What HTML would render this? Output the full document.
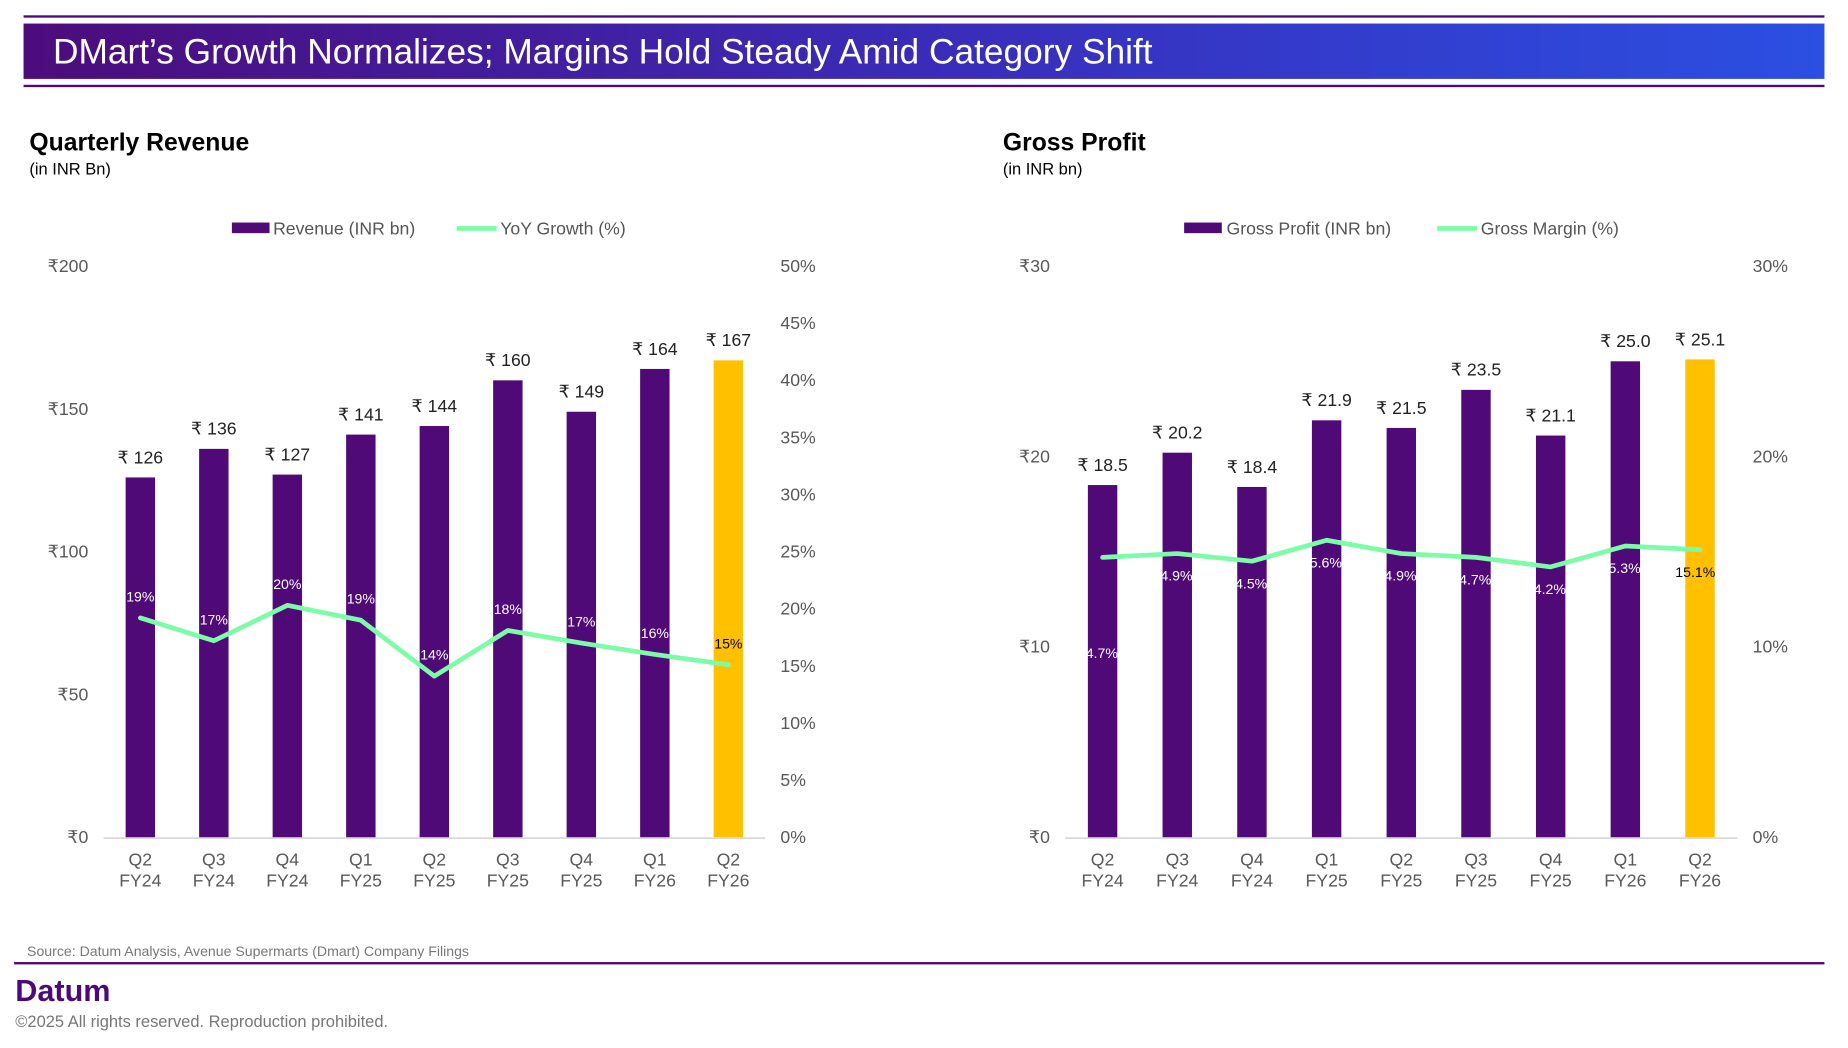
<!DOCTYPE html>
<html><head><meta charset="utf-8"><style>
html,body{margin:0;padding:0;background:#fff;}
svg{display:block;font-family:"Liberation Sans",sans-serif;}
</style></head><body>
<svg id="root" width="1848" height="1048" viewBox="0 0 1570 890" preserveAspectRatio="none">
<defs><linearGradient id="tg" x1="0" x2="1" y1="0" y2="0"><stop offset="0" stop-color="#4c0c7c"/><stop offset="0.5" stop-color="#3a2cb8"/><stop offset="1" stop-color="#2b4fe2"/></linearGradient></defs>
<rect x="20" y="13" width="1530" height="2" fill="#4b0a7a"/>
<rect x="20" y="20" width="1530" height="47" fill="url(#tg)"/>
<text x="45" y="54" font-size="30" fill="#fff">DMart’s Growth Normalizes; Margins Hold Steady Amid Category Shift</text>
<rect x="20" y="72" width="1530" height="2" fill="#4b0a7a"/>

<text x="25" y="128" font-size="21" font-weight="bold" fill="#000">Quarterly Revenue</text>
<text x="25" y="148" font-size="14" fill="#000">(in INR Bn)</text>
<text x="852" y="128" font-size="21" font-weight="bold" fill="#000">Gross Profit</text>
<text x="852" y="148" font-size="14" fill="#000">(in INR bn)</text>

<g>
<rect x="197" y="189" width="32" height="9" fill="#4f0a78"/>
<text x="232" y="199" font-size="15" fill="#555">Revenue (INR bn)</text>
<rect x="388" y="192" width="34" height="4" fill="#7dfca8"/>
<text x="425" y="199" font-size="15" fill="#555">YoY Growth (%)</text>
</g>
<g>
<rect x="1006" y="189" width="32" height="9" fill="#4f0a78"/>
<text x="1042" y="199" font-size="15" fill="#555">Gross Profit (INR bn)</text>
<rect x="1221" y="192" width="34" height="4" fill="#7dfca8"/>
<text x="1258" y="199" font-size="15" fill="#555">Gross Margin (%)</text>
</g>

<g id="chart1"></g>
<g id="chart2"></g>

<text x="23" y="812" font-size="12" fill="#777">Source: Datum Analysis, Avenue Supermarts (Dmart) Company Filings</text>
<rect x="12" y="817" width="1538" height="2" fill="#4b0a7a"/>
<text x="13" y="850" font-size="26" font-weight="bold" fill="#4b0a7a">Datum</text>
<text x="13" y="872" font-size="14" fill="#777">©2025 All rights reserved. Reproduction prohibited.</text>
</svg>
<script>
const categories = ["Q2|FY24","Q3|FY24","Q4|FY24","Q1|FY25","Q2|FY25","Q3|FY25","Q4|FY25","Q1|FY26","Q2|FY26"];
const revenue = [126,136,127,141,144,160,149,164,167];
const revenueLabels = ["₹ 126","₹ 136","₹ 127","₹ 141","₹ 144","₹ 160","₹ 149","₹ 164","₹ 167"];
const yoyGrowth = [19.2,17.2,20.3,19.0,14.1,18.1,17.0,16.0,15.1];
const yoyLabels = ["19%","17%","20%","19%","14%","18%","17%","16%","15%"];
const revTicks = [0,50,100,150,200];
const revTickLabels = ["₹0","₹50","₹100","₹150","₹200"];
const pctTicks1 = [0,5,10,15,20,25,30,35,40,45,50];
const grossProfit = [18.5,20.2,18.4,21.9,21.5,23.5,21.1,25.0,25.1];
const gpLabels = ["₹ 18.5","₹ 20.2","₹ 18.4","₹ 21.9","₹ 21.5","₹ 23.5","₹ 21.1","₹ 25.0","₹ 25.1"];
const grossMargin = [14.7,14.9,14.5,15.6,14.9,14.7,14.2,15.3,15.1];
const marginLabels = ["14.7%","14.9%","14.5%","15.6%","14.9%","14.7%","14.2%","15.3%","15.1%"];
const gpTicks = [0,10,20,30];
const gpTickLabels = ["₹0","₹10","₹20","₹30"];
const pctTicks2 = [0,10,20,30];

const NS="http://www.w3.org/2000/svg";
function mk(parent,tag,attrs,text){const e=document.createElementNS(NS,tag);for(const k in attrs)e.setAttribute(k,attrs[k]);if(text!==undefined)e.textContent=text;parent.appendChild(e);return e;}

function draw(g,cfg){
  const x0=cfg.x0,x1=cfg.x1,yTop=226,yBot=711;
  const n=categories.length,step=(x1-x0)/n;
  const xs=i=>x0+step*(i+0.5);
  const yL=v=>yBot-(v/cfg.lMax)*(yBot-yTop);
  const yR=v=>yBot-(v/cfg.rMax)*(yBot-yTop);
  cfg.lTicks.forEach((t,i)=>{
    const e=mk(g,'text',{x:cfg.lLabelX,y:yL(t)+5,'font-size':15,fill:'#595959','text-anchor':'end'},cfg.lTickLabels[i]);
    
    
  });
  cfg.rTicks.forEach(t=>{
    const e=mk(g,'text',{x:cfg.rLabelX,y:yR(t)+5,'font-size':15,fill:'#595959'},t+'%');
    
    
  });
  const ax=mk(g,'rect',{x:x0,y:yBot,width:x1-x0,height:1.5,fill:'#d9d9d9'});
  
  
  cfg.bars.forEach((v,i)=>{
    const last=i===n-1;
    const b=mk(g,'rect',{x:xs(i)-12.5,y:yL(v),width:25,height:yBot-yL(v),fill:last?'#ffc000':'#4f0a78'});
    
    
    const t=mk(g,'text',{x:xs(i),y:yL(v)-12,'font-size':15,fill:'#222','text-anchor':'middle'},cfg.barLabels[i]);
    
    
    const parts=categories[i].split('|');
    const c1=mk(g,'text',{x:xs(i),y:735,'font-size':15,fill:'#595959','text-anchor':'middle'},parts[0]);
    
    
    const c2=mk(g,'text',{x:xs(i),y:753,'font-size':15,fill:'#595959','text-anchor':'middle'},parts[1]);
    
    
  });
  const pts=cfg.line.map((v,i)=>xs(i)+','+yR(v)).join(' ');
  const pl=mk(g,'polyline',{points:pts,fill:'none',stroke:'#7dfca8','stroke-width':4,'stroke-linejoin':'round','stroke-linecap':'round'});
  
  
  cfg.line.forEach((v,i)=>{
    const last=i===n-1;
    const dy=(cfg.firstLabelY!==undefined&&i===0)?cfg.firstLabelY:yR(v)+cfg.labelDy;
    const t=mk(g,'text',{x:xs(i)+cfg.labelDx,y:dy,'font-size':12,fill:last?'#000':'#fff','text-anchor':'middle'},cfg.lineLabels[i]);
    
    
  });
}
draw(document.getElementById('chart1'),{x0:88,x1:650,lMax:200,rMax:50,lTicks:revTicks,lTickLabels:revTickLabels,rTicks:pctTicks1,lLabelX:75,rLabelX:663,bars:revenue,barLabels:revenueLabels,line:yoyGrowth,lineLabels:yoyLabels,lineName:'yoy-growth-line',labelDy:-14,labelDx:0});
draw(document.getElementById('chart2'),{x0:905,x1:1476,lMax:30,rMax:30,lTicks:gpTicks,lTickLabels:gpTickLabels,rTicks:pctTicks2,lLabelX:892,rLabelX:1489,bars:grossProfit,barLabels:gpLabels,line:grossMargin,lineLabels:marginLabels,lineName:'gross-margin-line',labelDy:23,labelDx:-4,firstLabelY:559});
</script>
</body></html>
